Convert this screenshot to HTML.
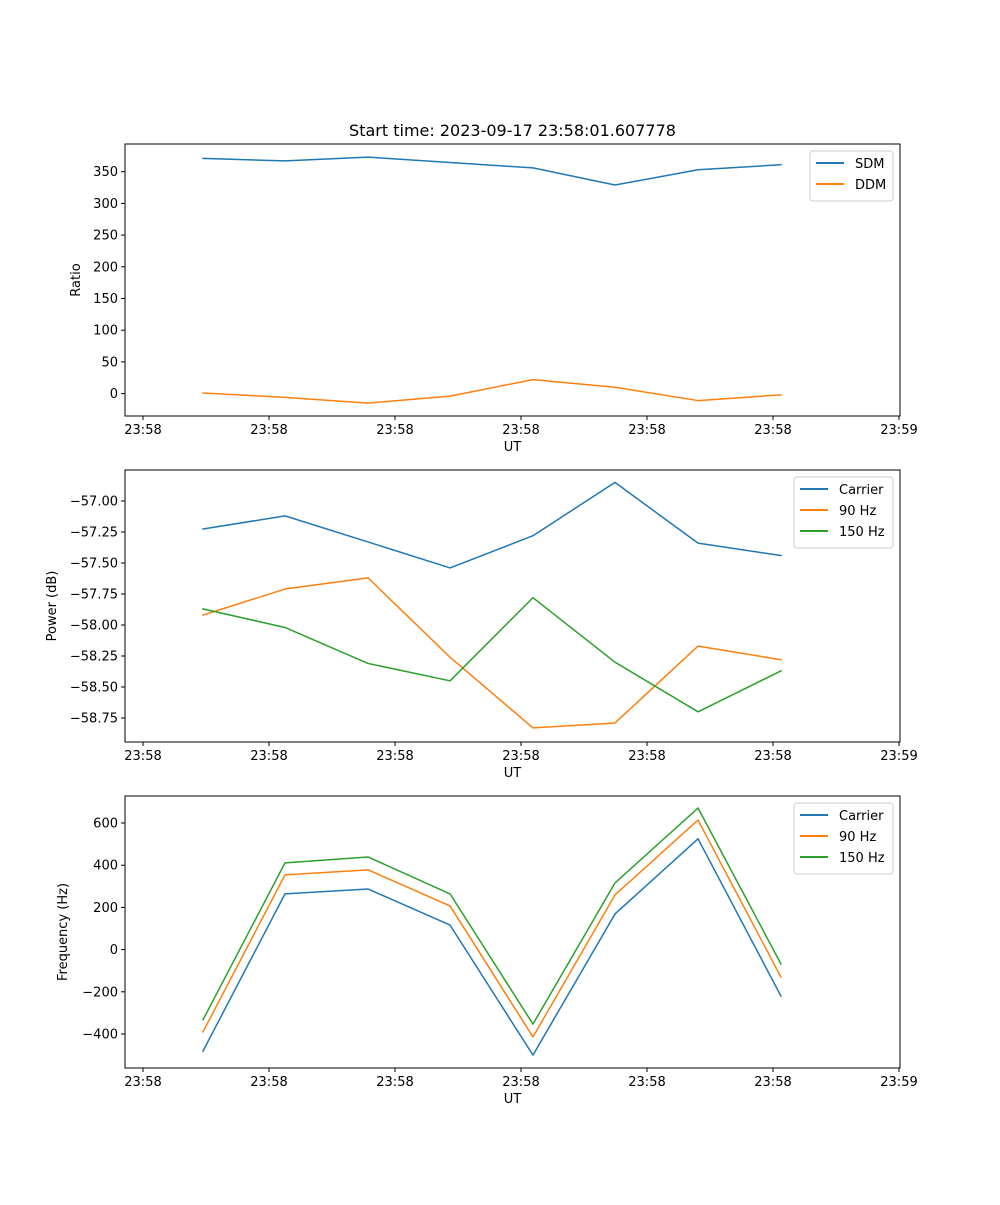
<!DOCTYPE html>
<html><head><meta charset="utf-8"><style>
body{margin:0;background:#fff;}
svg text{font-family:"DejaVu Sans","Liberation Sans",sans-serif;font-size:13px;fill:#000;}
</style></head><body>
<svg id="fig" width="1000" height="1200" xmlns="http://www.w3.org/2000/svg">
<text x="512.5" y="136" text-anchor="middle" style="font-size:16px">Start time: 2023-09-17 23:58:01.607778</text>
</svg>
<script>
const times = [0.476, 1.127, 1.786, 2.437, 3.095, 3.746, 4.405, 5.063];
const xTickVals = [0,1,2,3,4,5,6];
const xTickLabels = ["23:58","23:58","23:58","23:58","23:58","23:58","23:59"];
const sdm = [371, 367, 373, 364.5, 356, 329, 353, 361];
const ddm = [1, -6, -15, -4, 22, 10, -11, -2];
const pwrCarrier = [-57.226, -57.12, -57.33, -57.54, -57.28, -56.85, -57.34, -57.44];
const pwr90 = [-57.92, -57.71, -57.62, -58.26, -58.83, -58.79, -58.17, -58.28];
const pwr150 = [-57.87, -58.02, -58.31, -58.45, -57.78, -58.30, -58.70, -58.37];
const frqCarrier = [-481, 264, 287, 116, -500, 169, 525, -220];
const frq90 = [-390, 354, 378, 207, -414, 259, 614, -130];
const frq150 = [-333, 411, 439, 264, -353, 316, 671, -68];
const ratioTicks = [0,50,100,150,200,250,300,350];
const powerTicks = [-58.75,-58.5,-58.25,-58,-57.75,-57.5,-57.25,-57];
const powerTickLabels = ["−58.75","−58.50","−58.25","−58.00","−57.75","−57.50","−57.25","−57.00"];
const freqTicks = [-400,-200,0,200,400,600];
const freqTickLabels = ["−400","−200","0","200","400","600"];

const NS="http://www.w3.org/2000/svg";
const svg=document.getElementById('fig');
function mk(tag,attrs,parent){const e=document.createElementNS(NS,tag);for(const k in attrs)e.setAttribute(k,attrs[k]);(parent||svg).appendChild(e);return e;}
const L=125,R=900;
function xScale(t){return 143+126*t;}

function panel(cfg){
  const g=mk('g',{});
  
  
  const yS=v=>cfg.y0px+(v-cfg.y0)*cfg.k;
  cfg.series.forEach(s=>{
    const pts=times.map((t,i)=>xScale(t).toFixed(2)+','+yS(s.vals[i]).toFixed(2)).join(' ');
    const p=mk('polyline',{points:pts,fill:'none',stroke:s.color,'stroke-width':1.5,'stroke-linejoin':'round','stroke-linecap':'square'},g);
    
    
  });
  const fr=mk('rect',{x:L,y:cfg.top,width:R-L,height:272,fill:'none',stroke:'#000','stroke-width':1},g);
  
  
  const bot=cfg.top+272;
  xTickVals.forEach((t,i)=>{
    const x=xScale(t);
    mk('line',{x1:x,x2:x,y1:bot,y2:bot+4,stroke:'#000'},g);
    const tx=mk('text',{x:x,y:bot+18,'text-anchor':'middle'},g);
    tx.textContent=xTickLabels[i];
    
    
  });
  const xl=mk('text',{x:512.5,y:bot+35,'text-anchor':'middle'},g);
  xl.textContent='UT';
  
  
  cfg.ticks.forEach((v,i)=>{
    const y=yS(v);
    mk('line',{x1:L-4,x2:L,y1:y,y2:y,stroke:'#000'},g);
    const tx=mk('text',{x:L-7,y:y+4.5,'text-anchor':'end'},g);
    tx.textContent=cfg.tickLabels[i];
    
    
  });
  const yl=mk('text',{x:0,y:0,'text-anchor':'middle',transform:`translate(${cfg.ylx},${cfg.top+136}) rotate(-90)`},g);
  yl.textContent=cfg.ylabel;
  
  
  const lg=mk('g',{},g);
  
  
  const lw=cfg.legendW, lx=893-lw, ly=cfg.top+7;
  mk('rect',{x:lx,y:ly,width:lw,height:8+21*cfg.series.length,rx:3,fill:'#fff','fill-opacity':0.8,stroke:'#ccc'},lg);
  cfg.series.forEach((s,i)=>{
    const yy=ly+12+21*i;
    mk('line',{x1:lx+6,x2:lx+34,y1:yy,y2:yy,stroke:s.color,'stroke-width':2},lg);
    const t=mk('text',{x:lx+45,y:yy+5},lg);
    t.textContent=s.label;
    
    
  });
}
panel({name:'ratio-panel',top:144,y0:0,y0px:393.6,k:-0.634,ticks:ratioTicks,tickLabels:ratioTicks.map(String),ylabel:'Ratio',ylx:80,legendW:83,
  series:[{id:'sdm',label:'SDM',vals:sdm,color:'#1f77b4'},{id:'ddm',label:'DDM',vals:ddm,color:'#ff7f0e'}]});
panel({name:'power-panel',top:470,y0:-57,y0px:501,k:-124,ticks:powerTicks,tickLabels:powerTickLabels,ylabel:'Power (dB)',ylx:56,legendW:99,
  series:[{id:'carrier',label:'Carrier',vals:pwrCarrier,color:'#1f77b4'},{id:'hz90',label:'90 Hz',vals:pwr90,color:'#ff7f0e'},{id:'hz150',label:'150 Hz',vals:pwr150,color:'#2ca02c'}]});
panel({name:'frequency-panel',top:796,y0:0,y0px:949.6,k:-0.211,ticks:freqTicks,tickLabels:freqTickLabels,ylabel:'Frequency (Hz)',ylx:67,legendW:99,
  series:[{id:'carrier-freq',label:'Carrier',vals:frqCarrier,color:'#1f77b4'},{id:'hz90-freq',label:'90 Hz',vals:frq90,color:'#ff7f0e'},{id:'hz150-freq',label:'150 Hz',vals:frq150,color:'#2ca02c'}]});
</script>
</body></html>
